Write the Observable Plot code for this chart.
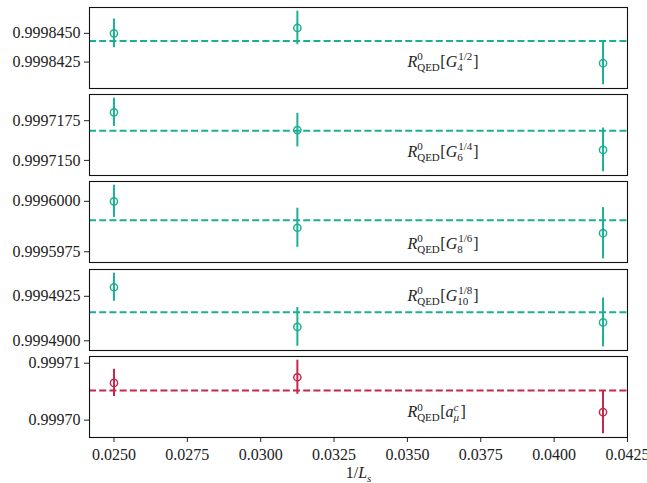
<!DOCTYPE html>
<html><head><meta charset="utf-8">
<script src="https://cdn.jsdelivr.net/npm/d3@7"></script>
<script src="https://cdn.jsdelivr.net/npm/@observablehq/plot@0.6"></script>
<style>
body{margin:0;background:#fff;}
#chart{position:relative;width:647px;height:483px;overflow:hidden;}
#chart svg{position:absolute;left:0;overflow:visible;}
</style></head><body><div id="chart"></div>
<script>
// ---- data ----
const Ls = [40, 32, 24];                       // x = 1/Ls
const g4Val  = [0.99984500, 0.99984547, 0.99984240];
const g4Err  = [1.25e-6, 1.46e-6, 1.88e-6];
const g4Fit  = 0.99984434;
const g6Val  = [0.99971803, 0.99971691, 0.99971566];
const g6Err  = [0.89e-6, 1.06e-6, 1.38e-6];
const g6Fit  = 0.99971686;
const g8Val  = [0.99960000, 0.99959869, 0.99959842];
const g8Err  = [0.80e-6, 0.97e-6, 1.27e-6];
const g8Fit  = 0.99959906;
const g10Val = [0.99949301, 0.99949078, 0.99949103];
const g10Err = [0.79e-6, 1.09e-6, 1.37e-6];
const g10Fit = 0.99949160;
const amuVal = [0.99970654, 0.99970754, 0.99970140];
const amuErr = [0.24e-5, 0.30e-5, 0.38e-5];
const amuFit = 0.99970519;

const yTicks = [
  [0.9998425, 0.9998450],
  [0.9997150, 0.9997175],
  [0.9995975, 0.9996000],
  [0.9994900, 0.9994925],
  [0.99970, 0.99971]
];
const yFormats = [".7f", ".7f", ".7f", ".7f", ".5f"];
const xTicks = [0.0250, 0.0275, 0.0300, 0.0325, 0.0350, 0.0375, 0.0400, 0.0425];
// label pieces: base symbol, subscript, superscript
const labelBase = ["G", "G", "G", "G", "a"];
const labelSub  = ["4", "6", "8", "10", "μ"];
const labelSup  = ["1/2", "1/4", "1/6", "1/8", "c"];

// ---- layout/styles ----
const W = 647, mL = 89, mR = 20;
const panelTop0 = 7, panelStep = 87.2, panelH = 81, pad = 6;
const labelX = 0.035;
const labelBaseline = [59, 62, 67, 31, 61];
const teal = "#1bb094", red = "#c3294f";
const colors = [teal, teal, teal, teal, red];
const font = "'Liberation Serif', 'Times New Roman', serif";

const series = [
  [g4Val, g4Err, g4Fit], [g6Val, g6Err, g6Fit], [g8Val, g8Err, g8Fit],
  [g10Val, g10Err, g10Fit], [amuVal, amuErr, amuFit]
];

const xs = Ls.map(l => 1 / l);
const xmin = d3.min(xs), xmax = d3.max(xs), xr = xmax - xmin;
const xDomain = [xmin - 0.05 * xr, xmax + 0.05 * xr];

const chart = document.getElementById("chart");
const NS = "http://www.w3.org/2000/svg";

function tspan(parent, txt, attrs) {
  const t = document.createElementNS(NS, "tspan");
  t.textContent = txt;
  for (const k in attrs) t.setAttribute(k, attrs[k]);
  parent.appendChild(t);
  return t;
}

series.forEach(([vals, errs, fit], i) => {
  const rows = xs.map((x, j) => ({x, y: vals[j], lo: vals[j] - errs[j], hi: vals[j] + errs[j]}));
  const lo = d3.min(rows, d => d.lo), hi = d3.max(rows, d => d.hi), r = hi - lo;
  const yDomain = [lo - 0.05 * r, hi + 0.05 * r];
  const last = i === series.length - 1;
  const mB = last ? 483 - (panelTop0 + 4 * panelStep + panelH) : pad;
  const marks = [
    Plot.ruleY([fit], {stroke: colors[i], strokeWidth: 2, strokeDasharray: "7,3.2"}),
    Plot.ruleX(rows, {x: "x", y1: "lo", y2: "hi", stroke: colors[i], strokeWidth: 2}),
    Plot.dot(rows, {x: "x", y: "y", r: 3.6, stroke: colors[i], strokeWidth: 1.5, fill: "none"}),
    Plot.text(["§LBL"], {x: () => labelX, frameAnchor: "top", dy: labelBaseline[i], lineAnchor: "bottom", textAnchor: "start", text: d => d, fontSize: 16, fill: "#222"}),
    Plot.frame({stroke: "#111", strokeWidth: 1.1})
  ];
  if (last) marks.push(Plot.text(["§XLBL"], {frameAnchor: "bottom", dy: 40.5, lineAnchor: "bottom", text: d => d, fontSize: 16, fill: "#222"}));
  const svg = Plot.plot({
    width: W,
    height: panelH + pad + mB,
    marginLeft: mL, marginRight: mR, marginTop: pad, marginBottom: mB,
    style: {fontSize: "16px", fontFamily: font, color: "#222", background: "transparent", overflow: "visible"},
    x: last
      ? {domain: xDomain, ticks: xTicks, tickFormat: d3.format(".4f"), tickSize: 5, tickPadding: 6, label: null}
      : {domain: xDomain, axis: null},
    y: {domain: yDomain, ticks: yTicks[i], tickFormat: d3.format(yFormats[i]), tickSize: 5, tickPadding: 4, label: null},
    marks
  });
  svg.style.top = (panelTop0 + i * panelStep - pad) + "px";
  chart.appendChild(svg);

  svg.querySelectorAll("text").forEach(t => {
    if (t.textContent === "§LBL") {
      t.textContent = "";
      tspan(t, "R", {"font-style": "italic"});
      tspan(t, "0", {"font-size": "11px", dy: "-7"});
      tspan(t, "QED", {"font-size": "11px", dx: "-5.5", dy: "11"});
      tspan(t, "[", {dy: "-4", dx: "0.5"});
      tspan(t, labelBase[i], {"font-style": "italic"});
      const subStyle = i === 4 ? {"font-size": "11px", "font-style": "italic", dy: "4"} : {"font-size": "11px", dy: "4"};
      const sub = tspan(t, labelSub[i], subStyle);
      const subW = labelSub[i].length * 5.5;
      const supStyle = i === 4 ? {"font-size": "11px", "font-style": "italic", dy: "-11", dx: String(-subW)} : {"font-size": "11px", dy: "-11", dx: String(-subW + 1)};
      const sup = tspan(t, labelSup[i], supStyle);
      const supW = labelSup[i].length * 4.5;
      tspan(t, "]", {dy: "7", dx: String(Math.max(0, subW - supW) + 1)});
    } else if (t.textContent === "§XLBL") {
      t.textContent = "";
      tspan(t, "1/");
      tspan(t, "L", {"font-style": "italic"});
      tspan(t, "s", {"font-style": "italic", "font-size": "11px", dy: "4"});
    }
  });
});
</script></body></html>
